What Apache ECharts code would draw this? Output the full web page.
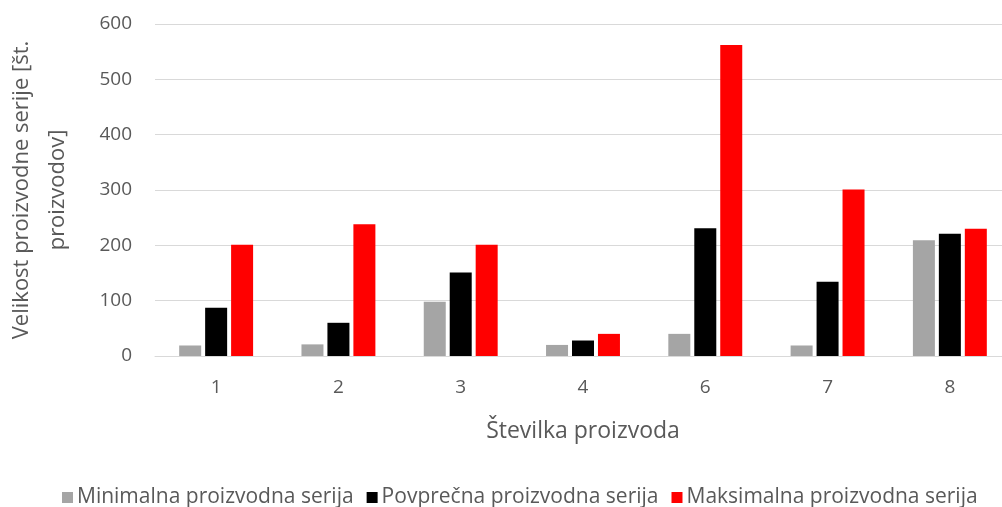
<!DOCTYPE html>
<html>
<head>
<meta charset="utf-8">
<script src="https://cdn.jsdelivr.net/npm/echarts@6/dist/echarts.min.js"></script>
<style>html,body{margin:0;padding:0;background:#fff;}#c{width:1002px;height:507px;}</style>
</head>
<body>
<div id="c"></div>
<script>
const categories = ['1', '2', '3', '4', '6', '7', '8'];
const minSeries = [19, 21, 98, 20, 40, 19, 209];
const avgSeries = [87, 60, 151, 28, 231, 134, 221];
const maxSeries = [201, 238, 201, 40, 562, 301, 230];
const yTicks = [0, 100, 200, 300, 400, 500, 600];
const seriesNames = ['Minimalna proizvodna serija', 'Povprečna proizvodna serija', 'Maksimalna proizvodna serija'];

const font = 'Open Sans';
const chart = echarts.init(document.getElementById('c'), null, {renderer: 'canvas'});
chart.setOption({
  animation: false,
  textStyle: {fontFamily: font},
  grid: {left: 155, top: 24, width: 856, height: 332, containLabel: false, outerBoundsMode: 'none'},
  legend: {
    top: 482, left: 57,
    itemWidth: 11, itemHeight: 11, itemGap: 13,
    icon: 'rect',
    textStyle: {color: '#595959', fontSize: 21, fontFamily: font, padding: [0, 0, 0, -1]},
    data: seriesNames
  },
  xAxis: {
    type: 'category', data: categories,
    axisLine: {lineStyle: {color: '#D9D9D9', width: 1}},
    axisTick: {show: false},
    axisLabel: {color: '#595959', fontSize: 19, margin: 22},
    name: 'Številka proizvoda', nameLocation: 'middle', nameGap: 64,
    nameTextStyle: {color: '#595959', fontSize: 23, fontFamily: font}
  },
  yAxis: {
    type: 'value', min: yTicks[0], max: yTicks[yTicks.length - 1], interval: 100,
    axisLine: {show: false}, axisTick: {show: false},
    splitLine: {lineStyle: {color: '#D9D9D9', width: 1}},
    axisLabel: {color: '#595959', fontSize: 19, margin: 23},
    name: 'Velikost proizvodne serije [št.\nproizvodov]', nameLocation: 'middle', nameGap: 79,
    nameMoveOverlap: false,
    nameTextStyle: {color: '#595959', fontSize: 22, lineHeight: 36, fontFamily: font}
  },
  series: [
    {name: seriesNames[0], type: 'bar', data: minSeries, itemStyle: {color: '#A5A5A5'}, barWidth: 22, barGap: '18%'},
    {name: seriesNames[1], type: 'bar', data: avgSeries, itemStyle: {color: '#000000'}, barWidth: 22, barGap: '18%'},
    {name: seriesNames[2], type: 'bar', data: maxSeries, itemStyle: {color: '#FF0000'}, barWidth: 22, barGap: '18%'}
  ]
});
</script>
</body>
</html>
